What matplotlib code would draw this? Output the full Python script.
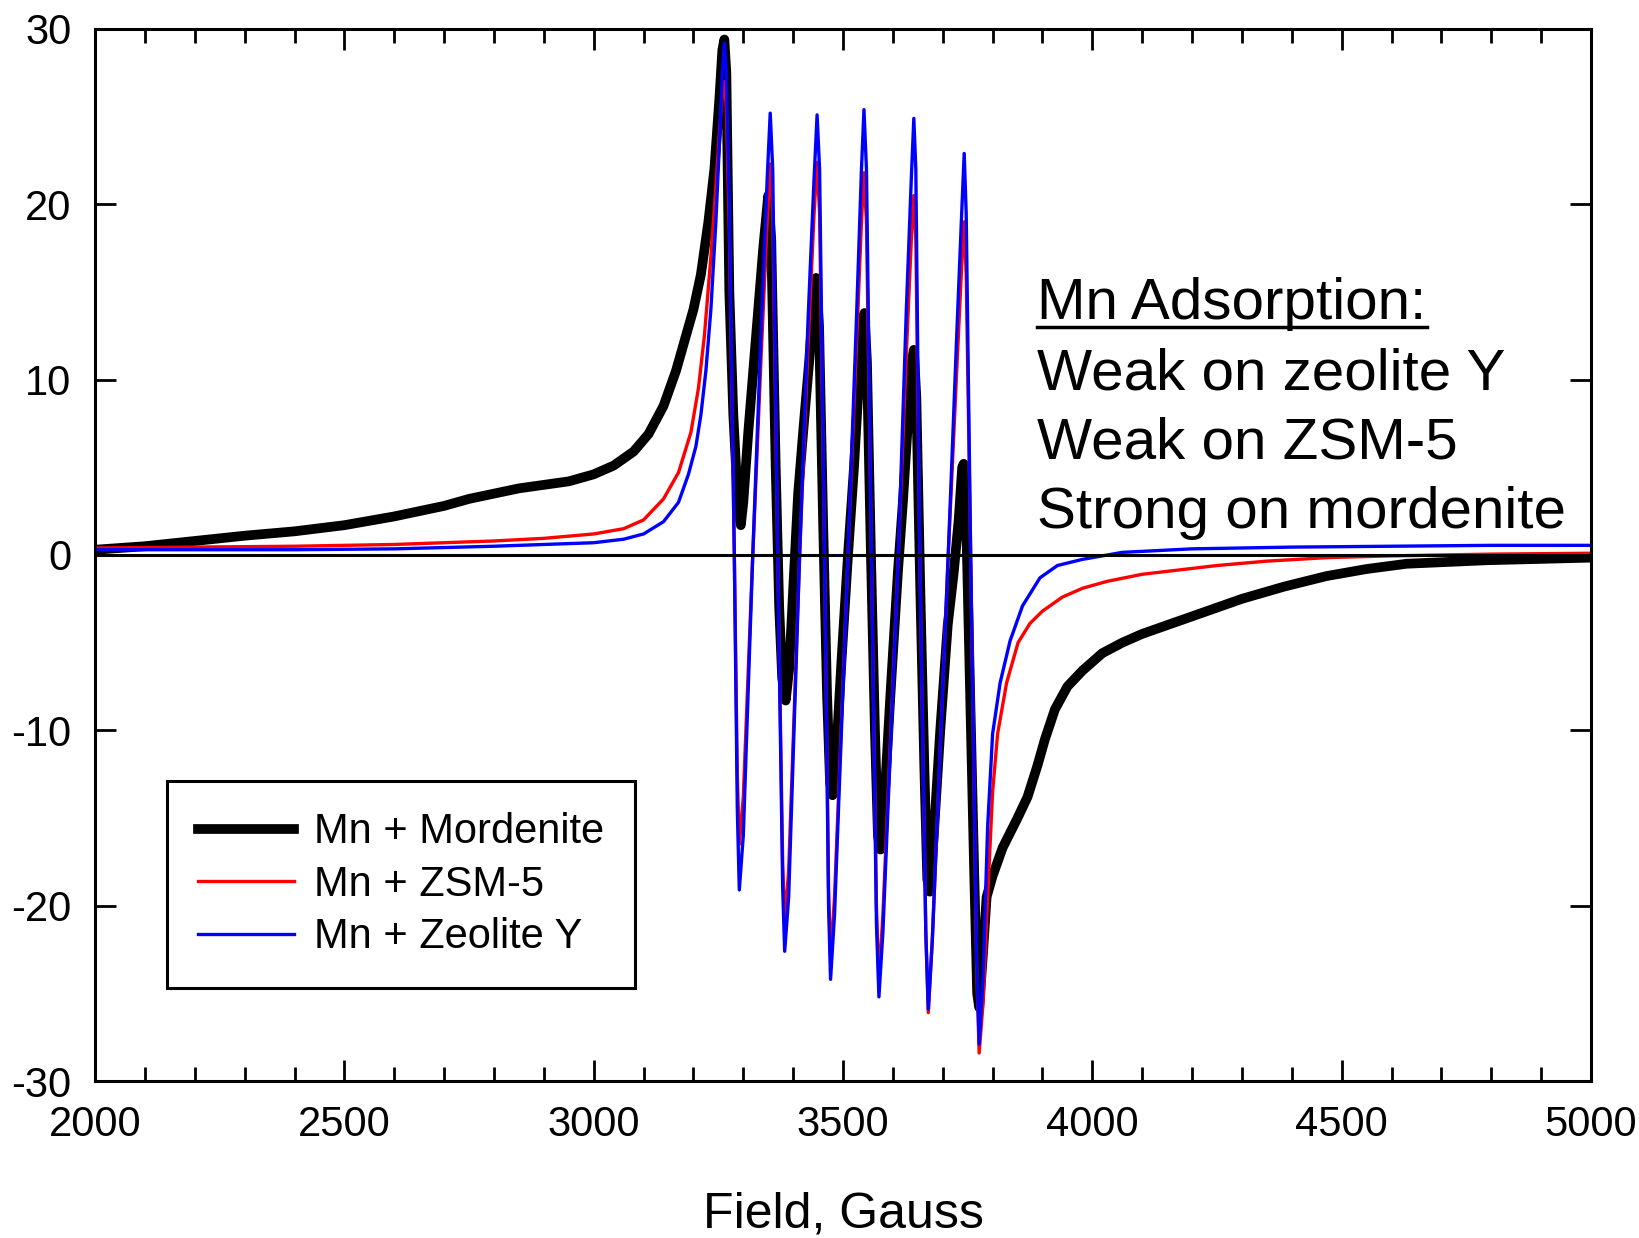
import matplotlib
matplotlib.use("Agg")
from matplotlib import pyplot as plt
from matplotlib.ticker import MultipleLocator
from matplotlib.lines import Line2D

plt.rcParams['font.family'] = ['Liberation Sans', 'DejaVu Sans']
plt.rcParams['axes.unicode_minus'] = False

# EPR spectra: (field in Gauss, signal)
mordenite_pts = [
    (2000, 0.3), (2100, 0.5), (2200, 0.8), (2300, 1.1), (2400, 1.35), (2500, 1.7),
    (2600, 2.2), (2700, 2.8), (2750, 3.2), (2800, 3.5), (2850, 3.8), (2900, 4.0),
    (2950, 4.2), (3000, 4.6), (3040, 5.1), (3080, 5.9), (3110, 6.9), (3140, 8.5),
    (3165, 10.5), (3185, 12.5), (3200, 14.0), (3215, 16.0), (3230, 19.0), (3242, 22.0),
    (3252, 26.0), (3258, 28.8), (3262, 29.4), (3266, 27.5), (3272, 15.0), (3280, 8.0),
    (3290, 2.5), (3295, 1.7), (3300, 3.0), (3310, 7.0), (3320, 10.5), (3330, 14.0),
    (3340, 17.5), (3350, 20.5), (3356, 18.0), (3365, 5.0), (3372, -3.0), (3378, -7.0),
    (3385, -8.3), (3392, -6.5), (3400, -2.0), (3410, 3.5), (3420, 7.0), (3432, 11.0),
    (3442, 15.0), (3446, 15.8), (3452, 13.0), (3460, 2.0), (3468, -8.0), (3474, -13.0),
    (3479, -13.7), (3487, -11.0), (3497, -6.0), (3510, 0.0), (3522, 5.0), (3532, 10.0),
    (3540, 13.5), (3543, 13.8), (3548, 11.0), (3556, 0.0), (3564, -10.0), (3570, -16.0),
    (3575, -16.8), (3583, -14.0), (3595, -8.0), (3610, -1.0), (3620, 3.0), (3630, 7.5),
    (3638, 11.0), (3642, 11.7), (3647, 9.0), (3655, -2.0), (3663, -12.0), (3669, -18.5),
    (3674, -19.2), (3682, -16.0), (3695, -10.0), (3710, -4.0), (3722, -1.0), (3732, 2.0),
    (3739, 5.0), (3742, 5.2), (3747, 2.0), (3755, -8.0), (3763, -18.0), (3769, -25.0),
    (3773, -25.8), (3780, -23.0), (3788, -19.5), (3800, -18.3), (3820, -16.7),
    (3850, -15.0), (3870, -13.8), (3890, -12.0), (3905, -10.5), (3925, -8.8),
    (3950, -7.5), (3980, -6.6), (4020, -5.6), (4060, -5.0), (4100, -4.5), (4160, -3.9),
    (4220, -3.3), (4300, -2.5), (4385, -1.8), (4470, -1.2), (4550, -0.8), (4630, -0.5),
    (4790, -0.3), (5000, -0.15),
]

zsm5_pts = [
    (2000, 0.4), (2200, 0.45), (2400, 0.5), (2600, 0.6), (2800, 0.8), (2900, 0.95),
    (3000, 1.2), (3060, 1.5), (3100, 2.0), (3140, 3.2), (3170, 4.7), (3195, 7.0),
    (3210, 9.5), (3222, 12.5), (3235, 17.0), (3245, 21.0), (3253, 24.5), (3258, 26.3),
    (3262, 27.0), (3266, 25.5), (3272, 18.5), (3282, 0.0), (3288, -12.5), (3292, -16.5),
    (3300, -13.8), (3319, 0.0), (3336, 11.5), (3348, 19.0), (3354, 22.3), (3359, 19.5),
    (3369, 0.0), (3379, -17.5), (3383, -20.9), (3391, -18.0), (3413, 0.0), (3430, 12.0),
    (3442, 19.5), (3448, 22.4), (3453, 19.5), (3463, 0.0), (3471, -19.0), (3475, -23.0),
    (3483, -19.5), (3510, 0.0), (3527, 12.0), (3537, 19.0), (3542, 21.8), (3547, 19.0),
    (3557, 0.0), (3567, -20.0), (3572, -24.3), (3580, -20.5), (3611, 0.0), (3627, 11.5),
    (3637, 18.0), (3642, 20.5), (3646, 18.0), (3654, 0.0), (3666, -21.5), (3671, -26.1),
    (3679, -22.0), (3711, 0.0), (3728, 10.5), (3738, 16.5), (3743, 19.0), (3747, 16.0),
    (3756, 0.0), (3768, -23.5), (3773, -28.4), (3781, -25.5), (3790, -19.5),
    (3800, -13.5), (3810, -10.2), (3828, -7.3), (3851, -5.0), (3875, -3.9),
    (3900, -3.2), (3940, -2.4), (3980, -1.9), (4030, -1.5), (4100, -1.1), (4160, -0.9),
    (4250, -0.6), (4350, -0.35), (4470, -0.15), (4600, -0.05), (4800, 0.05), (5000, 0.1),
]

zeolite_y_pts = [
    (2000, 0.3), (2200, 0.3), (2400, 0.3), (2600, 0.35), (2800, 0.5), (2900, 0.6),
    (3000, 0.7), (3060, 0.9), (3100, 1.2), (3140, 1.9), (3170, 3.0), (3190, 4.6),
    (3205, 6.2), (3215, 8.0), (3225, 10.5), (3235, 14.0), (3245, 19.0), (3253, 24.0),
    (3258, 27.5), (3262, 29.2), (3266, 27.5), (3272, 20.0), (3282, 0.0), (3288, -14.5),
    (3292, -19.1), (3300, -16.0), (3319, 0.0), (3336, 13.0), (3348, 21.5), (3354, 25.2),
    (3359, 22.0), (3369, 0.0), (3379, -19.0), (3383, -22.6), (3391, -19.5), (3413, 0.0),
    (3430, 13.5), (3442, 21.5), (3448, 25.1), (3453, 22.0), (3463, 0.0), (3471, -20.0),
    (3475, -24.2), (3483, -20.5), (3510, 0.0), (3527, 13.5), (3537, 22.0), (3542, 25.4),
    (3547, 22.0), (3557, 0.0), (3567, -21.0), (3572, -25.2), (3580, -21.5), (3611, 0.0),
    (3627, 14.0), (3637, 21.5), (3642, 24.9), (3646, 22.0), (3654, 0.0), (3666, -21.5),
    (3671, -25.9), (3679, -22.0), (3711, 0.0), (3728, 12.5), (3738, 19.5), (3743, 22.9),
    (3747, 19.5), (3756, 0.0), (3768, -23.0), (3773, -27.9), (3781, -24.0),
    (3790, -15.5), (3800, -10.2), (3815, -7.3), (3835, -4.9), (3860, -2.9),
    (3895, -1.3), (3930, -0.6), (3980, -0.25), (4060, 0.15), (4200, 0.35), (4400, 0.45),
    (4600, 0.5), (4800, 0.55), (5000, 0.55),
]

series_labels = ['Mn + Mordenite', 'Mn + ZSM-5', 'Mn + Zeolite Y']
note_lines = ['Mn Adsorption:', 'Weak on zeolite Y', 'Weak on ZSM-5', 'Strong on mordenite']
x_ticks = [2000, 2500, 3000, 3500, 4000, 4500, 5000]
y_ticks = [-30, -20, -10, 0, 10, 20, 30]

fig = plt.figure(figsize=(16.39, 12.38), dpi=100)
ax = fig.add_axes([0.058, 0.1268, 0.9127, 0.8498])

styles = [('black', 7.0), ('#ff0000', 2.4), ('#0000ff', 2.4)]
for pts, label, (col, lw) in zip([mordenite_pts, zsm5_pts, zeolite_y_pts], series_labels, styles):
    fx, fy = zip(*pts)
    ax.plot(fx, fy, color=col, lw=lw, label=label, solid_joinstyle='round')

ax.axhline(0, color='black', lw=2.2, zorder=5)

ax.set_xlim(2000, 5000)
ax.set_ylim(-30, 30)
ax.set_xticks(x_ticks)
ax.set_yticks(y_ticks)
ax.xaxis.set_minor_locator(MultipleLocator(100))
ax.tick_params(axis='both', which='both', direction='in', top=True, right=True,
               width=2.0, labelsize=30, colors='black')
ax.tick_params(axis='x', which='major', length=15, pad=17)
ax.tick_params(axis='x', which='minor', length=10)
ax.tick_params(axis='y', which='major', length=15, pad=17)
for sp in ax.spines.values():
    sp.set_linewidth(2.2)

ax.set_xlabel('Field, Gauss', fontsize=36, labelpad=34)

leg = ax.legend(loc='lower left', bbox_to_anchor=(0.048, 0.088), borderaxespad=0,
                fontsize=30, handlelength=2.3, handletextpad=0.48, borderpad=0.75,
                labelspacing=0.3, fancybox=False, framealpha=1, edgecolor='black')
leg.get_frame().set_linewidth(2.2)

# annotation block, one text per line
note_y = [13.45, 9.45, 5.5, 1.55]
texts = []
for line, yv in zip(note_lines, note_y):
    texts.append(ax.text(3890, yv, line, fontsize=42, va='baseline', ha='left'))

# underline the heading
fig.canvas.draw()
bb = texts[0].get_window_extent()
base = ax.transData.transform((3890, note_y[0]))[1]
inv = fig.transFigure.inverted()
(x0, y0) = inv.transform((bb.x0, base - 8))
(x1, _) = inv.transform((bb.x1, base - 8))
fig.add_artist(Line2D([x0, x1], [y0, y0], color='black', lw=2.5, transform=fig.transFigure))

fig.savefig('out.png', dpi=100)
